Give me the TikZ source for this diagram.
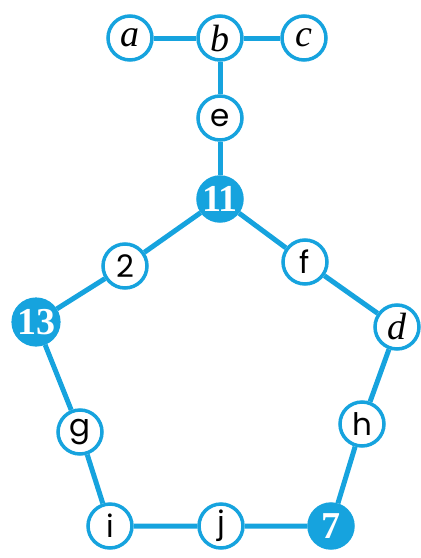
\documentclass[tikz,border=0pt]{standalone}
\usepackage{fontspec}
\newfontfamily\sanslabel{Poppins}
\newfontfamily\seriflabel{Liberation Serif}
\definecolor{EdgeClr}{RGB}{22,163,222}

\begin{document}
\begin{tikzpicture}[x=1pt,y=-1pt,
  vert/.style={circle,draw=EdgeClr,line width=3.5pt,fill=white,minimum size=44pt,inner sep=0pt},
  letter/.style={vert,font=\seriflabel\itshape\fontsize{38}{38}\selectfont},
  word/.style={vert,font=\sanslabel\fontsize{31}{31}\selectfont},
  full/.style={vert,fill=EdgeClr,text=white,font=\seriflabel\bfseries\fontsize{38}{38}\selectfont},
  edge/.style={draw=EdgeClr,line width=5pt}]
\useasboundingbox (0,0) rectangle (421,558);

% top row
\node[letter] (a) at (130,38) {a};
\node[letter] (b) at (220,38) {b};
\node[letter] (c) at (304,38) {c};
\node[word] (e) at (220,118) {e};
\node[full] (n11) at (220,199) {11};

% the ring
\node[word] (n2) at (125,266) {2};
\node[word] (f) at (305,262) {f};
\node[full] (n13) at (36,322) {13};
\node[letter] (d) at (397,327) {d};
\node[word] (g) at (80,432) {g};
\node[word] (h) at (362,424) {h};
\node[word] (i) at (110,526) {i};
\node[word] (j) at (221,526) {j};
\node[full] (n7) at (331,526) {7};

\draw[edge] (a) -- (b) (b) -- (c) (b) -- (e) (e) -- (n11);
\draw[edge] (n11) -- (n2) (n2) -- (n13) (n13) -- (g) (g) -- (i);
\draw[edge] (i) -- (j) (j) -- (n7) (n7) -- (h) (h) -- (d);
\draw[edge] (d) -- (f) (f) -- (n11);

\end{tikzpicture}
\end{document}
